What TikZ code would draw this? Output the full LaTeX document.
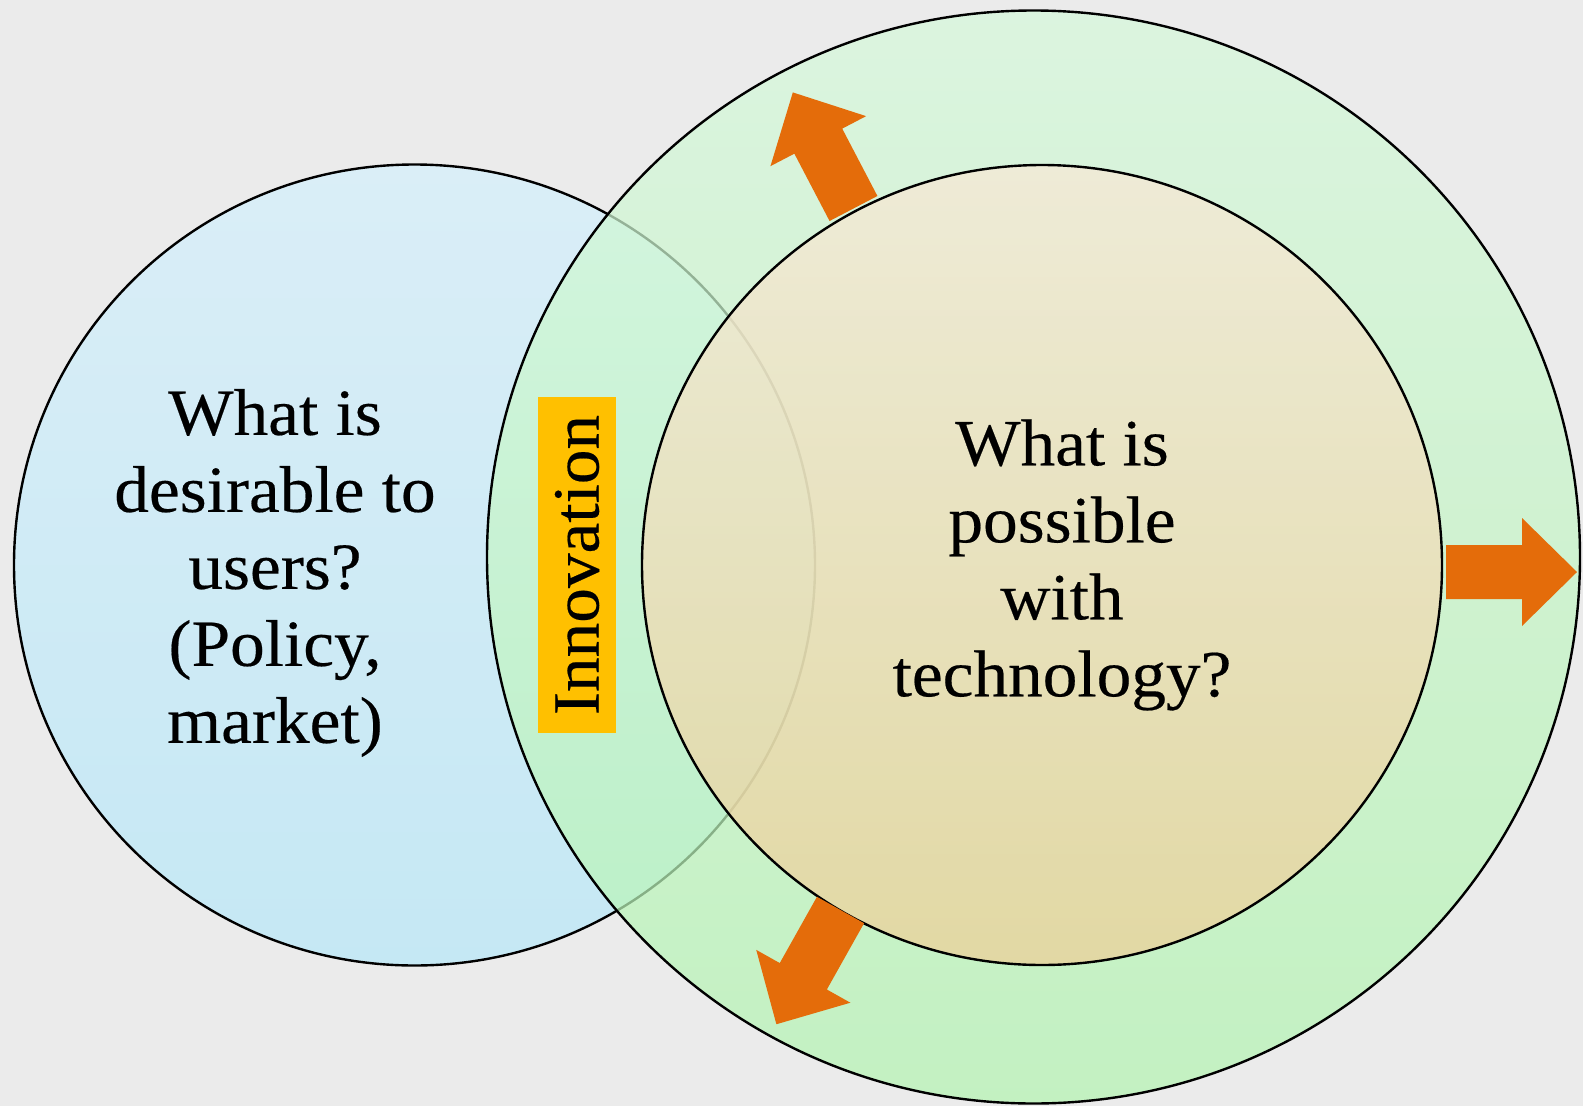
\documentclass[tikz,border=0pt]{standalone}
\usepackage{fontspec}
\setmainfont[FakeStretch=1.05,FakeBold=0.3]{Liberation Serif}
\definecolor{bgcol}{HTML}{EBEBEB}
\definecolor{bluetop}{HTML}{DAEEF7}
\definecolor{bluebot}{HTML}{C5E8F4}
\definecolor{greentop}{HTML}{D6F8DB}
\definecolor{greenbot}{HTML}{B4F4B2}
\definecolor{innertop}{HTML}{F6E9D6}
\definecolor{innerbot}{HTML}{ECD099}
\definecolor{arroworange}{HTML}{E46C0A}
\definecolor{innoyellow}{HTML}{FFC000}
\tikzset{
  ring/.style={circle, draw=black, line width=2.4pt, inner sep=0pt},
  bigtext/.style={align=center, font=\fontsize{66}{77}\selectfont, inner sep=0pt},
  blockarrow/.style={fill=arroworange},
}
\begin{document}
\begin{tikzpicture}[x=1pt,y=-1pt]
\useasboundingbox (0,0) rectangle (1583,1106);
\fill[bgcol] (0,0) rectangle (1583,1106);
% circles
\node[ring, minimum size=801pt, top color=bluetop, bottom color=bluebot] (users) at (414.5,565) {};
\node[ring, minimum size=1093pt, top color=greentop, bottom color=greenbot, fill opacity=0.72] (outer) at (1033.5,557) {};
\node[ring, minimum size=800pt, top color=innertop, bottom color=innerbot, fill opacity=0.75] (tech) at (1042,565) {};
% arrows
\fill[blockarrow, shift={(853.5,208.5)}, rotate=117.6] (0,-27) -- (76,-27) -- (76,-54) -- (131,0) -- (76,54) -- (76,27) -- (0,27) -- cycle;
\fill[blockarrow, shift={(1446,572)}] (0,-27) -- (76,-27) -- (76,-54) -- (131,0) -- (76,54) -- (76,27) -- (0,27) -- cycle;
\fill[blockarrow, shift={(840.5,910)}, rotate=240.7] (0,-27) -- (76,-27) -- (76,-54) -- (131,0) -- (76,54) -- (76,27) -- (0,27) -- cycle;
% texts
\node[bigtext] (usertext) at (275,573) {What is\\desirable to\\users?\\(Policy,\\market)};
\node[bigtext] (techtext) at (1062,565) {What is\\possible\\with\\technology?};
\node[rotate=90, fill=innoyellow, minimum width=336pt, minimum height=78pt, inner sep=0pt, font=\fontsize{66}{77}\selectfont] (innov) at (577,565) {Innovation};
\end{tikzpicture}
\end{document}
